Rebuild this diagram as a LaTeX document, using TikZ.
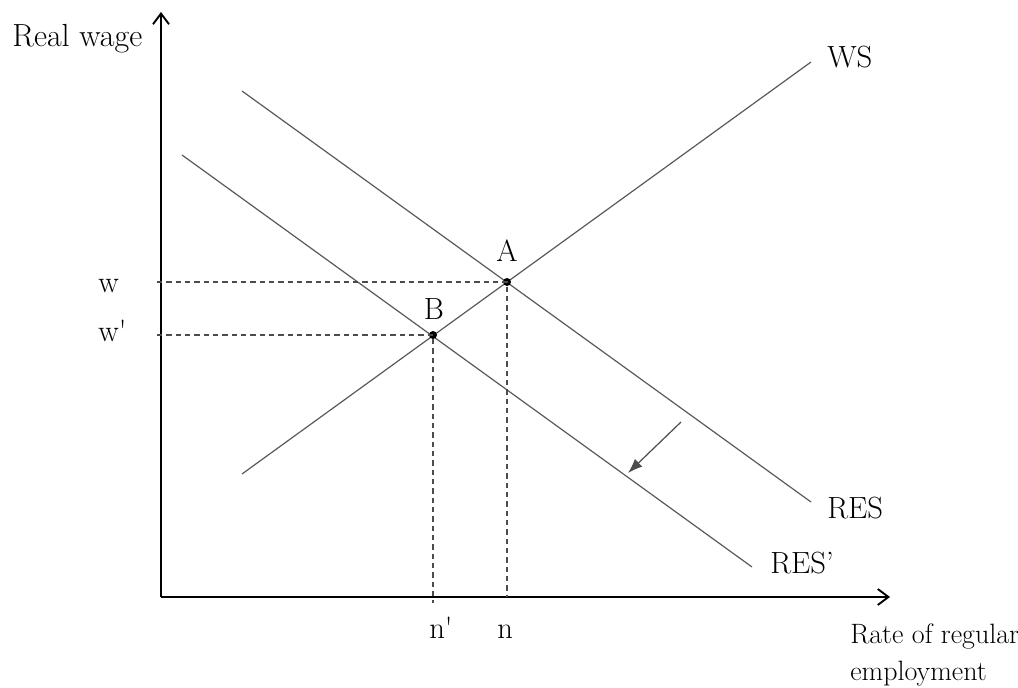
\documentclass[tikz,border=0pt]{standalone}
\usetikzlibrary{arrows.meta,positioning,calc}
\begin{document}
\begin{tikzpicture}[x=0.75pt,y=-0.75pt,
    axis/.style={line width=1.4pt,-{Straight Barb[length=8pt,width=12pt]}},
    curve/.style={line width=0.9pt,black!65},
    guide/.style={line width=0.8pt,black!70,dash pattern=on 4pt off 3pt},
    shiftarrow/.style={line width=0.9pt,black!70,-{Latex[length=11pt,width=8pt]}},
    lbl/.style={font=\fontsize{23}{27}\selectfont,inner sep=0pt},
    dot/.style={circle,fill=black,inner sep=0pt,minimum size=6pt}]
  \useasboundingbox (0,0) rectangle (1018,688);
  % axes
  \coordinate (O) at (161,597);
  \coordinate (ytop) at (161,12);
  \coordinate (xend) at (890,597);
  \draw[axis] (O) -- (ytop);
  \draw[axis] (O) -- (xend);
  % curves
  \coordinate (ws0) at (242,474);
  \coordinate (ws1) at (811,62);
  \coordinate (res0) at (242,91);
  \coordinate (res1) at (811,502);
  \coordinate (resp0) at (182,155);
  \coordinate (resp1) at (752,567);
  \draw[curve] (ws0) -- (ws1);
  \draw[curve] (res0) -- (res1);
  \draw[curve] (resp0) -- (resp1);
  % equilibria
  \node[dot] (A) at (507,282) {};
  \node[dot] (B) at (433,335) {};
  \coordinate (wA) at (157,282);
  \coordinate (wB) at (157,335);
  \coordinate (nA) at (507,597);
  \coordinate (nB) at (433,603);
  \draw[guide] (wA) -- (A.center) -- (nA);
  \draw[guide] (wB) -- (B.center) -- (nB);
  % shift of RES
  \coordinate (s0) at (681,422);
  \coordinate (s1) at (628,473);
  \draw[shiftarrow] (s0) -- (s1);
  % labels
  \node[lbl,font=\fontsize{24}{28}\selectfont,anchor=base west] (ylab) at (12,47) {Real wage};
  \node[lbl,font=\fontsize{21}{27.75}\selectfont,anchor=base west,align=left] (xlab) at (850,680) {Rate of regular\\employment};
  \node[lbl,anchor=base west] (lws) at (827,68) {WS};
  \node[lbl,anchor=base west] (lres) at (827,518) {RES};
  \node[lbl,anchor=base west] (lresp) at (770,573) {RES'};
  \node[lbl,anchor=base] (lA) at (507,262) {A};
  \node[lbl,anchor=base] (lB) at (434,319) {B};
  \node[lbl,anchor=base west] (lw) at (98,292) {w};
  \node[lbl,anchor=base west] (lwp) at (98,341) {w\textquotesingle};
  \node[lbl,anchor=base west] (lnp) at (429,638) {n\textquotesingle};
  \node[lbl,anchor=base west] (ln) at (497,638) {n};
\end{tikzpicture}
\end{document}
